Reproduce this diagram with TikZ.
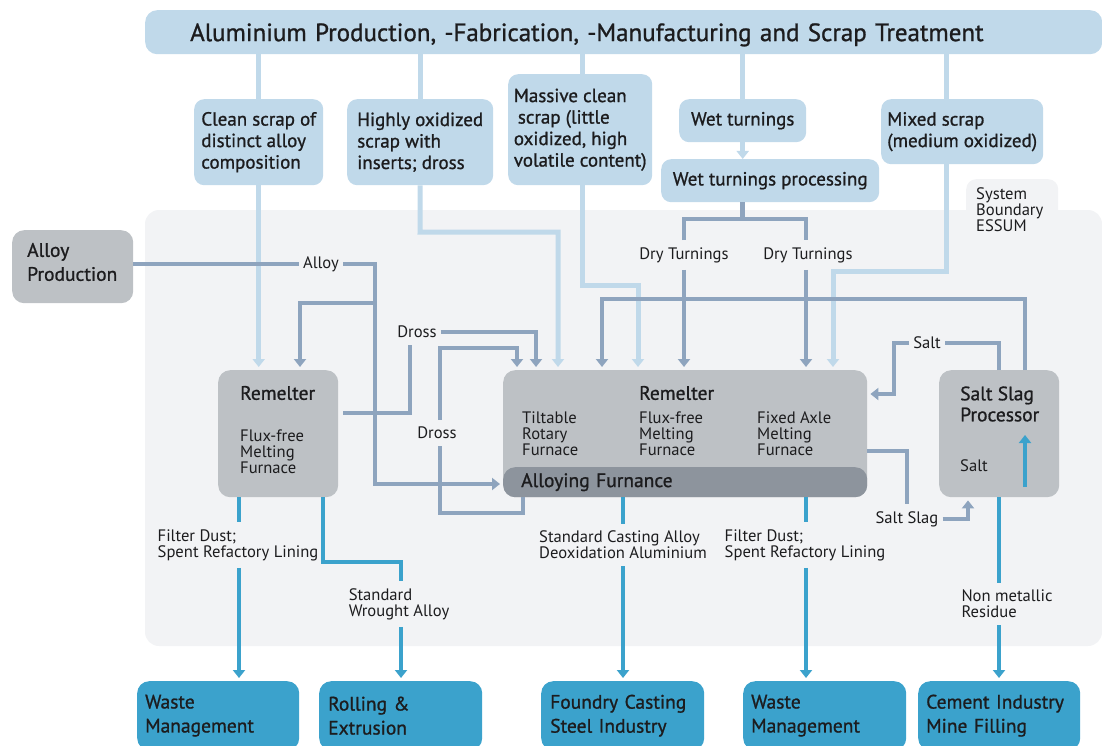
\documentclass[tikz,border=0pt]{standalone}
\usepackage{fontspec}
\setmainfont{PT Sans}
\newfontfamily\dinmed[FakeBold=1]{PT Sans}
\usetikzlibrary{arrows.meta,positioning}
\definecolor{scrapblue}{RGB}{192,217,234}
\definecolor{slateline}{RGB}{142,164,190}
\definecolor{outblue}{RGB}{59,162,204}
\definecolor{boxgray}{RGB}{189,193,197}
\definecolor{bargray}{RGB}{141,148,157}
\definecolor{boundgray}{RGB}{242,243,245}
\definecolor{inkdark}{RGB}{28,28,30}
\newcommand{\lblfnt}{\fontsize{16.6}{16}\selectfont}
\newcommand{\scrapfnt}{\dinmed\fontsize{19}{21.5}\selectfont}
\newcommand{\headfnt}{\dinmed\fontsize{19.5}{21}\selectfont}
\newcommand{\outfnt}{\dinmed\fontsize{19.5}{24}\selectfont}
\newcommand{\titlefnt}{\dinmed\fontsize{25}{28}\selectfont}
\hyphenpenalty=10000
\exhyphenpenalty=10000

\begin{document}
\begin{tikzpicture}[x=1pt,y=-1pt,
    every node/.style={text=inkdark},
    feed/.style={draw=scrapblue,line width=5pt},
    slate/.style={draw=slateline,line width=4.5pt},
    outl/.style={draw=outblue,line width=4.5pt},
    arr/.style={-{Triangle[width=12pt,length=8pt]},shorten >=3pt},
    tip/.style={-{Triangle[width=12pt,length=8pt]}},
    banner/.style={fill=scrapblue,rounded corners=12pt,anchor=north west,
      align=left,text width=867pt,inner xsep=45pt,minimum height=44pt,
      text depth=0pt,font=\titlefnt},
    scrap/.style={fill=scrapblue,rounded corners=10pt,anchor=north west,
      align=left,inner xsep=4pt,font=\scrapfnt},
    graybox/.style={fill=boxgray,rounded corners=12pt,anchor=north west},
    outbox/.style={fill=outblue,rounded corners=12pt,anchor=north west,
      align=left,minimum height=69pt,font=\outfnt},
    tab/.style={fill=boundgray,rounded corners=10pt,anchor=north west,align=left,
      font=\lblfnt,text width=72pt,inner xsep=10pt,minimum height=60pt},
    intxt/.style={anchor=west,inner sep=0pt,align=left},
    lbl/.style={font=\lblfnt,align=left,inner xsep=4pt,inner ysep=7pt}]
  \useasboundingbox (0,0) rectangle (1102,746);
  \fill[boundgray,rounded corners=14pt] (145,210) rectangle (1102,646);
  \node[tab] (sysb) at (966,179) {System\\Boundary\\ESSUM};

  \node[banner] (alu) at (145,10)
    {Aluminium Production, -Fabrication, -Manufacturing and Scrap Treatment};
  \node[scrap,minimum width=129pt,minimum height=86pt] (clean)
    at (194,99) {Clean scrap of\\distinct alloy\\composition};
  \node[scrap,minimum width=146pt,minimum height=86pt] (hox)
    at (347,99) {Highly oxidized\\scrap with\\inserts; dross};
  \node[scrap,minimum width=144pt,minimum height=111pt] (mass)
    at (508,74) {Massive clean\\\hspace*{4pt}scrap (little\\oxidized, high\\volatile content)};
  \node[scrap,minimum width=127pt,minimum height=43pt] (wet)
    at (679,99) {Wet turnings};
  \node[scrap,minimum width=218pt,minimum height=43pt] (wetp)
    at (661,159) {Wet turnings processing};
  \node[scrap,minimum width=162pt,minimum height=65pt] (mixed)
    at (881,99) {Mixed scrap\\(medium oxidized)};

  \node[graybox,minimum width=121pt,minimum height=73pt] (aprod) at (12,230) {};
  \node[graybox,minimum width=120pt,minimum height=127pt] (reml) at (218,370) {};
  \node[graybox,minimum width=364pt,minimum height=127pt] (remc) at (503,370) {};
  \node[graybox,fill=bargray,text width=328pt,inner xsep=18pt,minimum height=30pt,
    align=left,font=\headfnt] (alloyf) at (503,467) {Alloying Furnance};
  \node[graybox,minimum width=120pt,minimum height=127pt] (ssp) at (939,370) {};

  \node[intxt,font=\outfnt] (aprodtxt) at (27,262) {Alloy\\Production};
  \node[intxt,font=\headfnt] (remlhead) at (240,393) {Remelter};
  \node[intxt,font=\lblfnt] (remlsub) at (240,452) {Flux-free\\Melting\\Furnace};
  \node[intxt,font=\headfnt] (remchead) at (639,393) {Remelter};
  \node[intxt,font=\lblfnt] (remca) at (522,434) {Tiltable\\Rotary\\Furnace};
  \node[intxt,font=\lblfnt] (remcb) at (639,434) {Flux-free\\Melting\\Furnace};
  \node[intxt,font=\lblfnt] (remcc) at (757,434) {Fixed Axle\\Melting\\Furnace};
  \node[intxt,font=\headfnt] (ssphead) at (960,404) {Salt Slag\\Processor};
  \node[intxt,font=\lblfnt] (sspsalt) at (960,466) {Salt};

  \node[outbox,text width=146pt,inner xsep=8pt] (waste1) at (137,681) {Waste\\Management};
  \node[outbox,text width=145pt,inner xsep=9pt] (rolling) at (319,681) {Rolling \&\\Extrusion};
  \node[outbox,text width=145pt,inner xsep=9pt] (foundry) at (541,681) {Foundry Casting\\Steel Industry};
  \node[outbox,text width=147pt,inner xsep=8pt] (waste2) at (743,681) {Waste\\Management};
  \node[outbox,text width=146pt,inner xsep=8pt] (cement) at (918,681) {Cement Industry\\Mine Filling};

  \node[lbl] (alloylbl) at (321,264) {Alloy};
  \node[lbl] (drossa) at (417,332) {Dross};
  \node[lbl] (drossb) at (437,433) {Dross};
  \node[lbl] (drya) at (684,255) {Dry Turnings};
  \node[lbl] (dryb) at (808,255) {Dry Turnings};
  \node[lbl] (saltlbl) at (927,343) {Salt};
  \node[lbl] (sslag) at (907,519) {Salt Slag};
  \node[lbl] (fd1) at (238,545) {Filter Dust;\\Spent Refactory Lining};
  \node[lbl] (swa) at (399,604) {Standard\\Wrought Alloy};
  \node[lbl] (sca) at (623,545) {Standard Casting Alloy\\Deoxidation Aluminium};
  \node[lbl] (fd2) at (805,545) {Filter Dust;\\Spent Refactory Lining};
  \node[lbl] (nmr) at (1007,604) {Non metallic\\Residue};

  \coordinate (hx1) at (420,232);
  \coordinate (hx2) at (558,232);
  \coordinate (mx1) at (582,285);
  \coordinate (mx2) at (638,285);
  \coordinate (xx1) at (946,271);
  \coordinate (xx2) at (833,271);
  \coordinate (ab) at (375,264);
  \coordinate (abr) at (375,303);
  \coordinate (abl) at (300,303);
  \coordinate (abd) at (375,484);
  \coordinate (dla) at (343,413);
  \coordinate (dlb) at (410,413);
  \coordinate (dlc) at (536,332);
  \coordinate (db1) at (523,513);
  \coordinate (db2) at (440,513);
  \coordinate (db3) at (440,348);
  \coordinate (db4) at (517,348);
  \coordinate (dtl) at (684,219);
  \coordinate (dtr) at (806,219);
  \coordinate (sr1) at (1025,299);
  \coordinate (sr2) at (602,299);
  \coordinate (sl1) at (999,343);
  \coordinate (sl2) at (894,343);
  \coordinate (sl3) at (894,394);
  \coordinate (ss1) at (907,451);
  \coordinate (ss2) at (968,519);
  \coordinate (spa) at (1025,487);
  \coordinate (spb) at (1025,435);
  \coordinate (o1) at (239,497);
  \coordinate (o2) at (323,497);
  \coordinate (o2b) at (323,562);
  \coordinate (o2c) at (401,562);
  \coordinate (o3) at (623,497);
  \coordinate (o4) at (806,497);
  \coordinate (o5) at (999,497);

  \draw[feed] (clean.north |- alu.south) -- (clean.north);
  \draw[feed] (hox.north |- alu.south) -- (hox.north);
  \draw[feed] (mx1 |- alu.south) -- (mx1 |- mass.north);
  \draw[feed] (wet.north |- alu.south) -- (wet.north);
  \draw[feed] (xx1 |- alu.south) -- (xx1 |- mixed.north);
  \draw[feed,tip] (wet.south) -- (wet.south |- wetp.north);
  \draw[feed,arr] (clean.south) -- (clean.south |- reml.north);
  \draw[feed,arr] (hox.south) -- (hx1) -- (hx2) -- (hx2 |- remc.north);
  \draw[feed,arr] (mx1 |- mass.south) -- (mx1) -- (mx2) -- (mx2 |- remc.north);
  \draw[feed,arr] (xx1 |- mixed.south) -- (xx1) -- (xx2) -- (xx2 |- remc.north);

  \draw[slate] (aprod.east |- alloylbl) -- (alloylbl);
  \draw[slate,arr] (alloylbl) -- (ab) -- (abd) -- (alloyf.west |- abd);
  \draw[slate,arr] (abr) -- (abl) -- (abl |- reml.north);
  \draw[slate] (dla) -- (dlb) -- (dlb |- drossa.south);
  \draw[slate,arr] (drossa) -- (dlc) -- (dlc |- remc.north);
  \draw[slate] (db1 |- alloyf.south) -- (db1) -- (db2) -- (db2 |- drossb.south);
  \draw[slate,arr] (db3 |- drossb.north) -- (db3) -- (db4) -- (db4 |- remc.north);
  \draw[slate] (wet.south |- wetp.south) -- (wet.south |- dtl);
  \draw[slate] (dtl |- drya.north) -- (dtl) -- (dtr) -- (dtr |- dryb.north);
  \draw[slate,arr] (dtl |- drya.south) -- (dtl |- remc.north);
  \draw[slate,arr] (dtr |- dryb.south) -- (dtr |- remc.north);
  \draw[slate,arr] (sr1 |- ssp.north) -- (sr1) -- (sr2) -- (sr2 |- remc.north);
  \draw[slate] (sl1 |- ssp.north) -- (sl1) -- (saltlbl);
  \draw[slate,arr] (saltlbl) -- (sl2) -- (sl3) -- (remc.east |- sl3);
  \draw[slate] (remc.east |- ss1) -- (ss1) -- (sslag);
  \draw[slate,arr] (sslag) -- (ss2) -- (ss2 |- ssp.south);

  \draw[outl,tip] (spa) -- (spb);
  \draw[outl] (o1) -- (o1 |- fd1.north);
  \draw[outl,arr] (o1 |- fd1.south) -- (o1 |- waste1.north);
  \draw[outl] (o2) -- (o2b) -- (o2c) -- (o2c |- swa.north);
  \draw[outl,arr] (o2c |- swa.south) -- (o2c |- rolling.north);
  \draw[outl] (o3) -- (o3 |- sca.north);
  \draw[outl,arr] (o3 |- sca.south) -- (o3 |- foundry.north);
  \draw[outl] (o4) -- (o4 |- fd2.north);
  \draw[outl,arr] (o4 |- fd2.south) -- (o4 |- waste2.north);
  \draw[outl] (o5) -- (o5 |- nmr.north);
  \draw[outl,arr] (o5 |- nmr.south) -- (o5 |- cement.north);
\end{tikzpicture}
\end{document}
